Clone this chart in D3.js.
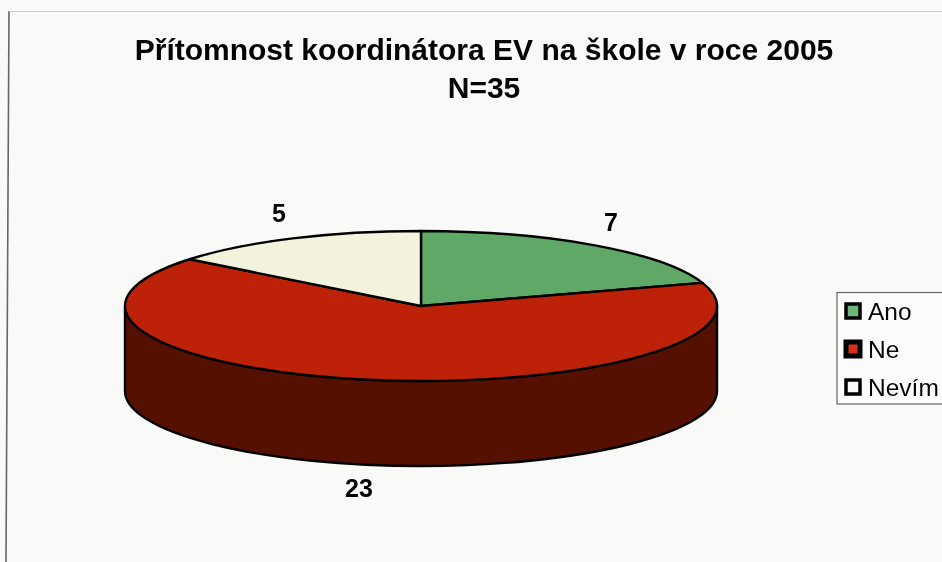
<!DOCTYPE html>
<html><head><meta charset="utf-8">
<script src="https://cdn.jsdelivr.net/npm/d3@7"></script>
<style>html,body{margin:0;padding:0;background:#f9faf8}svg{display:block;filter:blur(0.45px)}text{font-family:"Liberation Sans",Arial,sans-serif;fill:#050505}</style>
</head><body><svg id="c" width="942" height="562"></svg>
<script>
const titleLines = ["Přítomnost koordinátora EV na škole v roce 2005", "N=35"];
const categories = ["Ano", "Ne", "Nevím"];
const values = [7, 23, 5];
const topColors = ["#5fa868", "#bd2208", "#f3f2dc"];
const legendColors = ["#6fb57c", "#d83020", "#f9faf8"];
const sideColor = "#561002";
const cx = 421, cy = 306, rx = 296, ry = 75, depth = 85;
const svg = d3.select("#c");
const pie = d3.pie().sort(null).value(d => d);
const arcs = pie(values);
const rScale = d3.scaleLinear().domain([0, 1]).range([0, rx]);
const arc = d3.arc().innerRadius(0).outerRadius(rScale(1));

// scanned frame
svg.append("path").attr("d", "M6 562L9 11").attr("stroke", "#666").attr("stroke-width", 1.6).attr("fill", "none");
svg.append("path").attr("d", "M9 11.5H942").attr("stroke", "#ccc").attr("stroke-width", 1).attr("fill", "none");

// side wall
const wallD = `M${cx - rx} ${cy}V${cy + depth}A${rx} ${ry} 0 0 0 ${cx + rx} ${cy + depth}V${cy}A${rx} ${ry} 0 0 1 ${cx - rx} ${cy}Z`;
svg.append("path").attr("d", wallD).attr("fill", sideColor).attr("stroke", "#000").attr("stroke-width", 2.4);

// top slices
svg.append("g").attr("transform", `translate(${cx},${cy}) scale(1,${ry / rx})`)
  .selectAll("path").data(arcs).join("path")
  .attr("d", arc)
  .attr("fill", (d, i) => topColors[i])
  .attr("stroke", "#000").attr("stroke-width", 2.4)
  .attr("stroke-linejoin", "round")
  .attr("vector-effect", "non-scaling-stroke");

// titles
const titleY = [60, 98];
titleLines.forEach((t, i) => svg.append("text").attr("x", 484).attr("y", titleY[i]).attr("text-anchor", "middle")
  .attr("font-size", 30).attr("font-weight", "bold").text(t));

// data labels
const labelPos = [[611, 231], [359, 497], [279, 222]];
values.forEach((v, i) => svg.append("text").attr("x", labelPos[i][0]).attr("y", labelPos[i][1])
  .attr("text-anchor", "middle").attr("font-size", 25).attr("font-weight", "bold").text(v));

// legend
svg.append("rect").attr("x", 837).attr("y", 292.5).attr("width", 110).attr("height", 111.5)
  .attr("fill", "#fbfbfa").attr("stroke", "#666").attr("stroke-width", 1.2);
const ly = d3.scalePoint().domain(categories).range([311, 387]);
const lg = svg.append("g").selectAll("g").data(categories).join("g")
  .attr("transform", d => `translate(0,${ly(d)})`);
lg.append("rect").attr("x", 846).attr("y", -7).attr("width", 14).attr("height", 14)
  .attr("fill", (d, i) => legendColors[i]).attr("stroke", "#000").attr("stroke-width", (d, i) => i === 1 ? 5 : 3.5);
lg.append("text").attr("x", 868).attr("y", 9).attr("font-size", 24.5).text(d => d);
</script></body></html>
